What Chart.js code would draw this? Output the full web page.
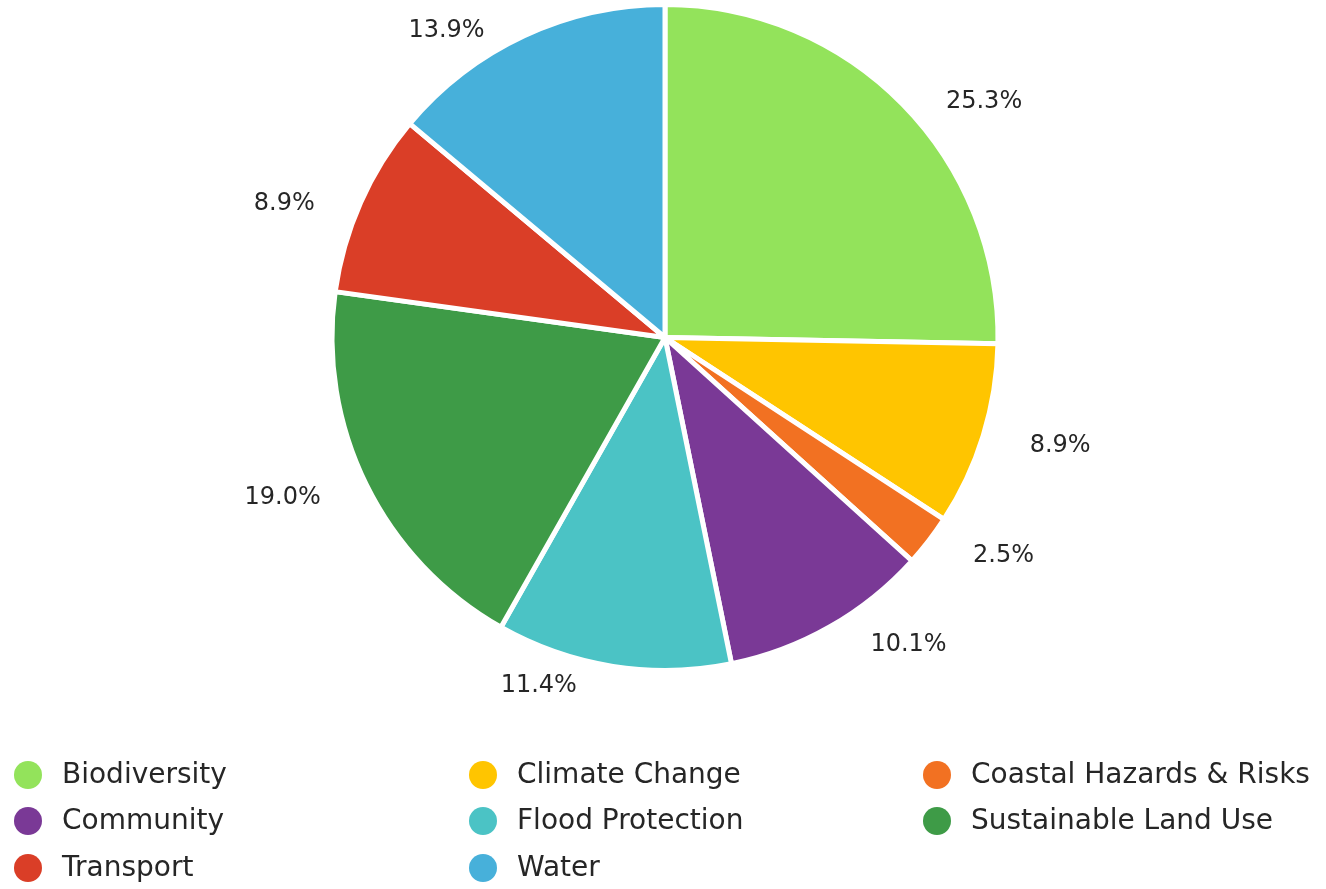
<!DOCTYPE html>
<html>
<head>
<meta charset="utf-8">
<script src="https://cdn.jsdelivr.net/npm/chart.js@4.4.0/dist/chart.umd.min.js"></script>
<style>
html,body{margin:0;padding:0;background:#fff;}
#wrap{width:1326px;height:889px;position:relative;}
</style>
</head>
<body>
<div id="wrap"><canvas id="c" width="1326" height="889"></canvas></div>
<script>
const categories = ["Biodiversity","Climate Change","Coastal Hazards & Risks","Community","Flood Protection","Sustainable Land Use","Transport","Water"];
const shares = [25.3, 8.9, 2.5, 10.1, 11.4, 19.0, 8.9, 13.9];
const sliceColors = ["#93E35B","#FFC500","#F27122","#7A3996","#4BC3C5","#3E9B47","#DA3E27","#47B0DA"];

const FONT = '"DejaVu Sans", Verdana, sans-serif';
const TEXT = '#262626';

const labelPlugin = {
  id: 'sliceLabels',
  afterDatasetsDraw(chart) {
    const ctx = chart.ctx;
    const meta = chart.getDatasetMeta(0);
    ctx.save();
    ctx.font = '24px ' + FONT;
    ctx.fillStyle = TEXT;
    ctx.textBaseline = 'middle';
    meta.data.forEach((arc, i) => {
      const p = arc.getProps(['x','y','startAngle','endAngle','outerRadius'], true);
      const mid = (p.startAngle + p.endAngle) / 2;
      const r = p.outerRadius + 13;
      const c = Math.cos(mid);
      const ax = p.x + c * r + (c >= 0 ? 34 : -34);
      const ay = p.y + Math.sin(mid) * r + 7;
      ctx.textAlign = c >= 0 ? 'left' : 'right';
      ctx.fillText(chart.data.datasets[0].data[i].toFixed(1) + '%', ax, ay);
    });
    ctx.restore();
  }
};

const legendPlugin = {
  id: 'gridLegend',
  afterDraw(chart) {
    const ctx = chart.ctx;
    const cols = 3, colX = [28, 483, 937], rowY = [775, 821, 868];
    ctx.save();
    ctx.font = '28px ' + FONT;
    ctx.textBaseline = 'middle';
    ctx.textAlign = 'left';
    chart.data.labels.forEach((lab, i) => {
      const cx = colX[i % cols], cy = rowY[Math.floor(i / cols)];
      ctx.beginPath();
      ctx.arc(cx, cy, 14, 0, Math.PI * 2);
      ctx.fillStyle = chart.data.datasets[0].backgroundColor[i];
      ctx.fill();
      ctx.fillStyle = TEXT;
      ctx.fillText(lab, cx + 34, cy + 1);
    });
    ctx.restore();
  }
};

new Chart(document.getElementById('c'), {
  type: 'pie',
  data: {
    labels: categories,
    datasets: [{
      data: shares,
      backgroundColor: sliceColors,
      borderColor: '#ffffff',
      borderWidth: 5,
      hoverOffset: 0
    }]
  },
  options: {
    responsive: false,
    animation: false,
    layout: { padding: { top: 2, bottom: 216, left: 4, right: 0 } },
    plugins: { legend: { display: false }, tooltip: { enabled: false } }
  },
  plugins: [labelPlugin, legendPlugin]
});
</script>
</body>
</html>
